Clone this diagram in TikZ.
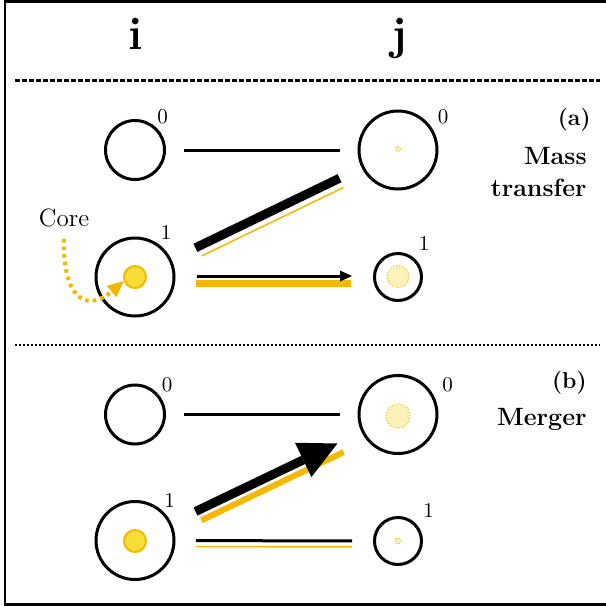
\documentclass[tikz,border=0pt]{standalone}
\usetikzlibrary{positioning, arrows.meta}
\definecolor{coreyellow}{RGB}{245,184,0}
\definecolor{corefill}{RGB}{248,222,58}
\definecolor{palecore}{RGB}{253,242,185}

\begin{document}
\begin{tikzpicture}[x=0.5pt,y=-0.5pt,
  shell/.style={circle,draw,line width=1.5pt,inner sep=0pt},
  small/.style={shell,minimum size=29.5pt},
  big/.style={shell,minimum size=39pt},
  little/.style={shell,minimum size=23.5pt},
  core/.style={circle,draw=coreyellow,fill=corefill,line width=1pt,minimum size=11pt,inner sep=0pt},
  halo/.style={circle,draw=coreyellow,fill=palecore,densely dotted,line width=0.5pt,inner sep=0pt},
  digit/.style={font=\fontsize{10.5}{12}\selectfont,inner sep=0pt},
  head/.style={font=\fontsize{23}{26}\selectfont\bfseries,anchor=base,inner sep=0pt},
  tag/.style={font=\fontsize{11.5}{13}\selectfont\bfseries,anchor=base east,inner sep=0pt},
  kind/.style={font=\fontsize{12.5}{15}\selectfont\bfseries,anchor=base east,inner sep=0pt},
  link/.style={line width=1.5pt,shorten <=9pt,shorten >=9pt},
  pointer/.style={coreyellow,line width=2pt,dash pattern=on 1.8pt off 2pt,shorten <=6pt,
    -{Triangle[length=8pt,width=7.5pt,line width=0pt]}}]
\useasboundingbox (0,0) rectangle (606,606);
\path[draw][line width=1.2pt] (640,1.5) -- (5,1.5) -- (5,604.5) -- (640,604.5);
\path (136,49) node[head] (hi) {i};
\path (399,49) node[head] (hj) {j};
\path[draw][line width=1.5pt,dash pattern=on 2.3pt off 1.2pt] (15,80) -- (600,80);
\path[draw][line width=1pt,dash pattern=on 1.1pt off 0.9pt] (15,345) -- (600,345);

% (a) mass transfer
\path (591,125) node[tag] (tA) {(a)};
\path (587,164) node[kind] (kA1) {Mass};
\path (587,196) node[kind] (kA2) {transfer};
\path (135,150) node[small] (iA0) {};
\path (398,150) node[big] (jA0) {};
\path (135,277) node[big] (iA1) {};
\path (398,277) node[little] (jA1) {};
\path (135,277) node[core] (cA) {};
\path (398,149) node[halo,minimum size=2.5pt] (hA0) {};
\path (398,276.5) node[halo,minimum size=11pt] (hA1) {};
\path (162.5,117) node[digit] (dAi0) {0};
\path (443,117) node[digit] (dAj0) {0};
\path (166,233) node[digit] (dAi1) {1};
\path (424,243.5) node[digit] (dAj1) {1};
\path (64,226) node[font=\fontsize{12.5}{14}\selectfont,anchor=base,inner sep=0pt] (coretext) {Core};
\path[draw][pointer] (coretext.south) .. controls (63,305) and (90,310) .. (cA.200);
\path[draw][link] (iA0) -- (jA0);
\path[draw][coreyellow,line width=0.75pt,shorten <=14.3pt,shorten >=12.4pt,transform canvas={shift={(2.2pt,-4.5pt)}}] (iA1) -- (jA0);
\path[draw][line width=4.5pt,shorten <=13.3pt,shorten >=12.2pt] (iA1) -- (jA0);
\path[draw][coreyellow,line width=3.4pt,shorten <=10pt,shorten >=11pt,transform canvas={yshift=-3.25pt}] (iA1) -- (jA1);
\path[draw][line width=1.5pt,shorten <=10.75pt,shorten >=10.5pt,-{Triangle[length=6pt,width=5.5pt,line width=0pt]},transform canvas={yshift=0.5pt}] (iA1) -- (jA1);

% (b) merger
\path (587,388) node[tag] (tB) {(b)};
\path (587,425) node[kind] (kB) {Merger};
\path (135,414.5) node[small] (iB0) {};
\path (398,414.5) node[big] (jB0) {};
\path (135,540.5) node[big] (iB1) {};
\path (398,541) node[little] (jB1) {};
\path (135,541) node[core] (cB) {};
\path (398,416) node[halo,minimum size=12pt] (hB0) {};
\path (398,541) node[halo,minimum size=3pt] (hB1) {};
\path (167,385) node[digit] (dBi0) {0};
\path (447.5,385) node[digit] (dBj0) {0};
\path (169.5,500.5) node[digit] (dBi1) {1};
\path (428.5,510.5) node[digit] (dBj1) {1};
\path[draw][link] (iB0) -- (jB0);
\path[draw][coreyellow,line width=3pt,shorten <=14pt,shorten >=12.5pt,transform canvas={shift={(2.3pt,-4.7pt)}}] (iB1) -- (jB0);
\path[draw][line width=4.5pt,shorten <=13.3pt,shorten >=13.3pt,-{Triangle[length=19pt,width=19pt,line width=0pt]}] (iB1) -- (jB0);
\path[draw][line width=1.5pt,shorten <=10.25pt,shorten >=10.5pt] (iB1) -- (jB1);
\path[draw][coreyellow,line width=0.75pt,shorten <=10.25pt,shorten >=10.5pt,transform canvas={yshift=-3pt}] (iB1) -- (jB1);
\end{tikzpicture}
\end{document}
